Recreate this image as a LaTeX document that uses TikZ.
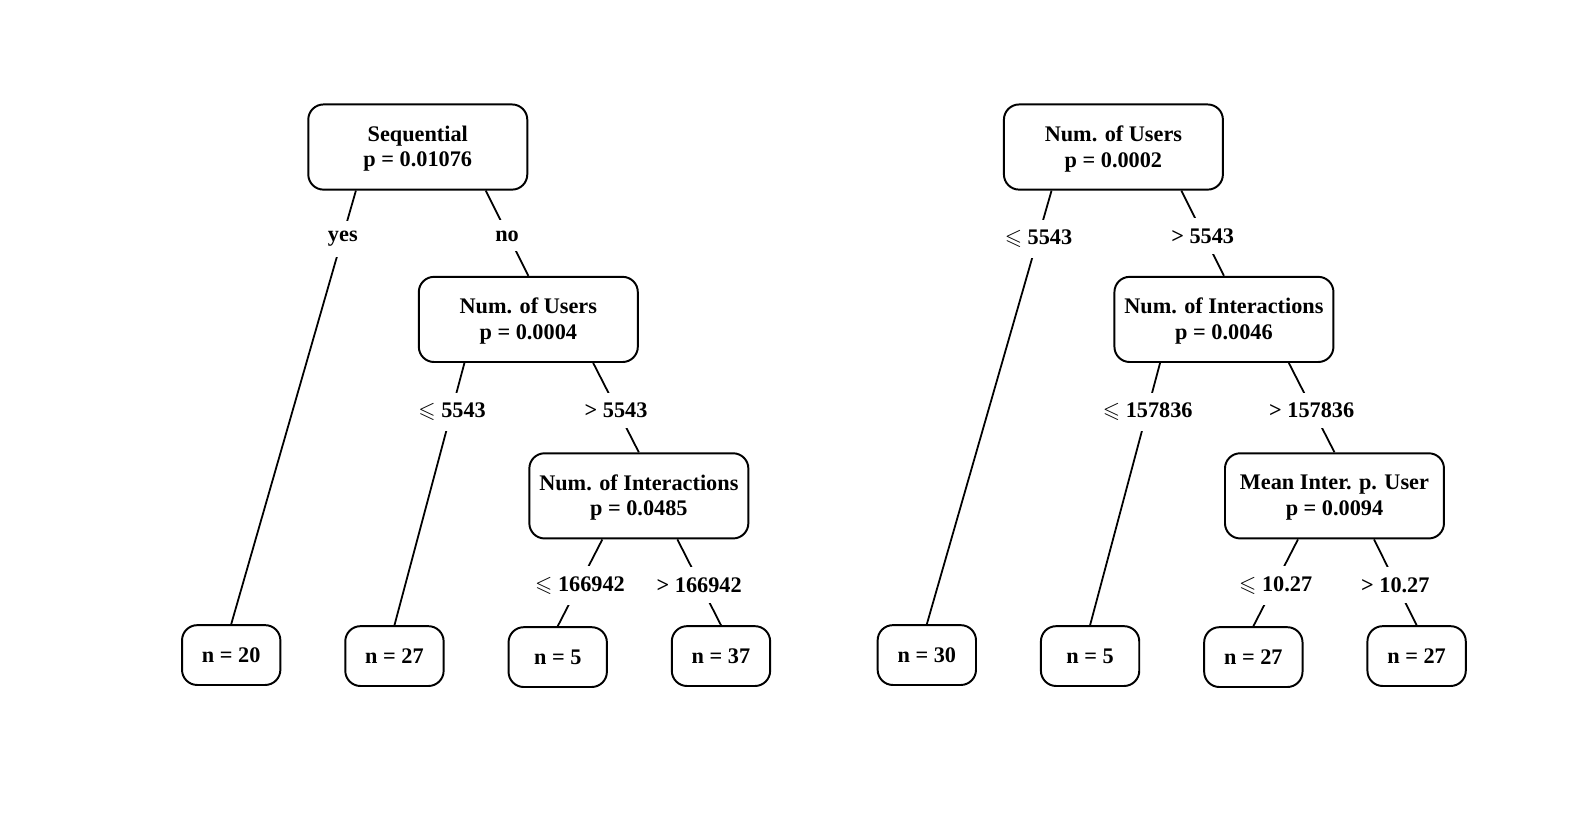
\documentclass[tikz,border=0pt]{standalone}
\usepackage{amssymb}
\usepackage{fontspec}
\setmainfont{Liberation Serif}
\usetikzlibrary{calc}

\begin{document}
\begin{tikzpicture}[x=0.02cm, y=-0.02cm,
    txt/.style={font=\fontsize{12.5}{14.3}\selectfont\bfseries},
    inner/.style={txt, draw, line width=1.1pt, rounded corners=0.3cm, minimum width=4.32cm, minimum height=1.68cm, align=center, text depth=0.6pt},
    leaf/.style={txt, draw, line width=1.1pt, rounded corners=0.3cm, minimum width=1.94cm, minimum height=1.18cm},
    lbl/.style={txt, fill=white, inner xsep=1pt, inner ysep=0.2cm, yshift=-1.5pt},
    edge/.style={line width=1pt}]
    \useasboundingbox (0,0) rectangle (1568,805);
    % left tree
        \node[inner] (seq) at (412,145) {Sequential\\p = 0.01076};
        \node[inner] (users) at (521,315) {Num. of Users\\p = 0.0004};
        \node[inner] (inter) at (630,489) {Num. of Interactions\\p = 0.0485};
        \node[leaf] (n20) at (228,646) {n = 20};
        \node[leaf] (n27) at (389,647) {n = 27};
        \node[leaf] (n5) at (550,648) {n = 5};
        \node[leaf] (n37) at (711,647) {n = 37};
        \draw[edge] ($(seq.south)+(-61,0)$) -- node[lbl,pos=.105] {yes} (n20.north);
        \draw[edge] ($(seq.south)+(67,0)$) -- node[lbl] {no} (users.north);
        \draw[edge] ($(users.south)+(-63,0)$) -- node[lbl,pos=.176] {$\leqslant$ 5543} (n27.north);
        \draw[edge] ($(users.south)+(64,0)$) -- node[lbl] {> 5543} (inter.north);
        \draw[edge] ($(inter.south)+(-36,0)$) -- node[lbl] {$\leqslant$ 166942} (n5.north);
        \draw[edge] ($(inter.south)+(38,0)$) -- node[lbl] {> 166942} (n37.north);
    % right tree
        \node[inner] (usersb) at (1098,145) {Num. of Users\\p = 0.0002};
        \node[inner] (interb) at (1207,315) {Num. of Interactions\\p = 0.0046};
        \node[inner] (mean) at (1316,489) {Mean Inter. p. User\\p = 0.0094};
        \node[leaf] (n30) at (914,646) {n = 30};
        \node[leaf] (n5b) at (1075,647) {n = 5};
        \node[leaf] (n27a) at (1236,648) {n = 27};
        \node[leaf] (n27b) at (1397,647) {n = 27};
        \draw[edge] ($(usersb.south)+(-61,0)$) -- node[lbl,pos=.105] {$\leqslant$ 5543} (n30.north);
        \draw[edge] ($(usersb.south)+(67,0)$) -- node[lbl] {> 5543} (interb.north);
        \draw[edge] ($(interb.south)+(-63,0)$) -- node[lbl,pos=.176] {$\leqslant$ 157836} (n5b.north);
        \draw[edge] ($(interb.south)+(64,0)$) -- node[lbl] {> 157836} (mean.north);
        \draw[edge] ($(mean.south)+(-36,0)$) -- node[lbl] {$\leqslant$ 10.27} (n27a.north);
        \draw[edge] ($(mean.south)+(39,0)$) -- node[lbl] {> 10.27} (n27b.north);
\end{tikzpicture}
\end{document}
